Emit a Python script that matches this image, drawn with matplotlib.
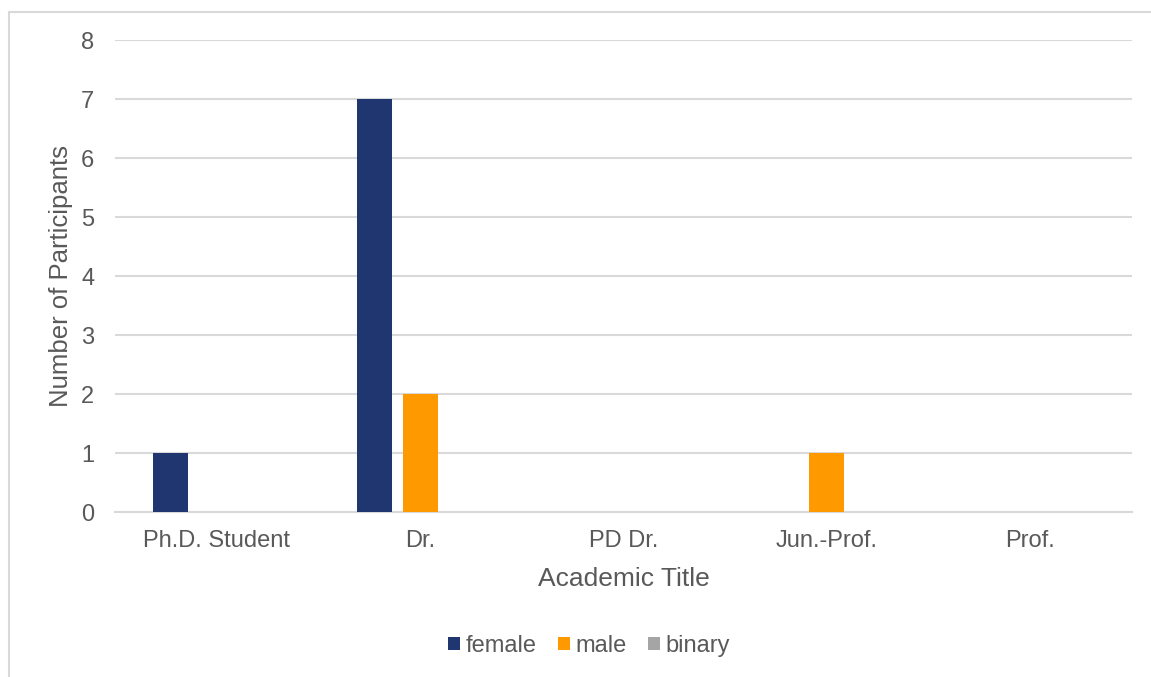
import numpy as np
import matplotlib.pyplot as plt
from matplotlib.patches import Rectangle

plt.rcParams["font.family"] = ["Liberation Sans", "DejaVu Sans"]

titles = ["Ph.D. Student", "Dr.", "PD Dr.", "Jun.-Prof.", "Prof."]
female = [1, 7, 0, 0, 0]
male = [0, 2, 0, 1, 0]
binary = [0, 0, 0, 0, 0]

text_col = "#595959"
grid_col = "#D9D9D9"

fig = plt.figure(figsize=(11.51, 6.77), dpi=100)
ax = fig.add_axes([0.0999, 0.2437, 0.8836, 0.6972])

x = np.arange(len(titles))
w = 0.172
step = 0.226
ax.bar(x - step, female, w, color="#1F3671", label="female", zorder=3)
ax.bar(x, male, w, color="#FF9900", label="male", zorder=3)
ax.bar(x + step, binary, w, color="#A5A5A5", label="binary", zorder=3)

ax.set_xlim(-0.5, len(titles) - 0.5)
ax.set_ylim(0, 8)
ax.set_yticks(range(9))
ax.set_xticks(x)
ax.set_xticklabels(titles)
ax.grid(axis="y", color=grid_col, lw=1.5, zorder=0)
for s in ["top", "right", "left"]:
    ax.spines[s].set_visible(False)
ax.spines["bottom"].set_color(grid_col)
ax.spines["bottom"].set_linewidth(1.5)
ax.tick_params(length=0, labelsize=17, labelcolor=text_col)
ax.tick_params(axis="y", pad=15)
ax.tick_params(axis="x", pad=13)

ax.set_xlabel("Academic Title", fontsize=19, color=text_col, labelpad=11)
ax.set_ylabel("Number of Participants", fontsize=18.5, color=text_col, labelpad=6)

fig.legend(loc="center", bbox_to_anchor=(589 / 1151, 1 - 646 / 677), ncol=3,
           frameon=False, fontsize=17, labelcolor=text_col,
           handlelength=0.5, handleheight=0.5, handletextpad=0.25, columnspacing=0.9)

# chart area border, open at the right and bottom
fig.add_artist(Rectangle((9 / 1151, -0.1), 1.2, 1 - 11.5 / 677 + 0.1,
                         transform=fig.transFigure, fill=False,
                         edgecolor=grid_col, lw=1.5))

fig.savefig("out.png", dpi=100)
